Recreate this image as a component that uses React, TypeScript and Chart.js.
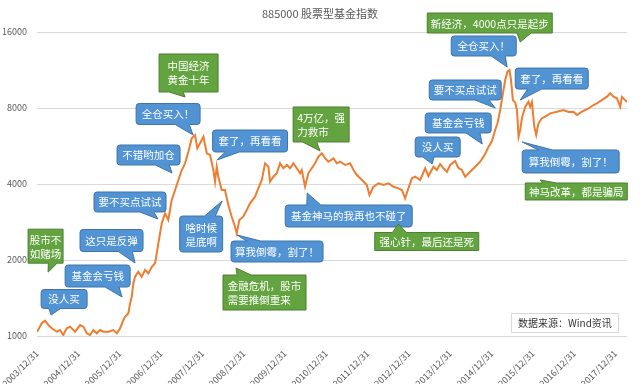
import React, { useEffect, useRef } from 'react';
import { Chart, registerables } from 'chart.js';

Chart.register(...registerables);

const chartTitle = '885000 股票型基金指数';
const sourceNote = '数据来源：Wind资讯';

const dates = [
  '2003-12-31', '2004-02-11', '2004-03-12', '2004-04-10', '2004-05-10', '2004-06-23', '2004-07-22', '2004-08-20',
  '2004-09-19', '2004-10-19', '2004-12-02', '2005-01-16', '2005-02-14', '2005-03-16', '2005-04-14', '2005-05-13',
  '2005-06-12', '2005-07-11', '2005-08-09', '2005-09-23', '2005-11-06', '2005-12-06', '2006-01-04', '2006-02-02',
  '2006-02-17', '2006-03-18', '2006-04-02', '2006-04-17', '2006-05-01', '2006-05-16', '2006-06-14', '2006-07-14',
  '2006-08-12', '2006-09-11', '2006-10-11', '2006-11-09', '2006-12-08', '2007-01-07', '2007-02-05', '2007-03-06',
  '2007-04-05', '2007-05-05', '2007-06-03', '2007-07-03', '2007-08-01', '2007-08-30', '2007-09-29', '2007-10-28',
  '2007-11-17', '2007-12-11', '2008-01-10', '2008-02-09', '2008-03-09', '2008-04-07', '2008-04-22', '2008-05-07',
  '2008-05-21', '2008-06-20', '2008-07-19', '2008-08-18', '2008-09-17', '2008-10-16', '2008-10-31', '2008-11-23',
  '2008-12-28', '2009-01-28', '2009-02-26', '2009-04-11', '2009-05-10', '2009-06-10', '2009-07-09', '2009-08-07',
  '2009-08-22', '2009-09-20', '2009-10-20', '2009-11-18', '2009-12-18', '2010-01-17', '2010-02-15', '2010-03-16',
  '2010-04-15', '2010-05-14', '2010-05-29', '2010-06-27', '2010-07-26', '2010-08-25', '2010-09-23', '2010-10-23',
  '2010-11-22', '2010-12-21', '2011-01-19', '2011-03-05', '2011-04-04', '2011-05-03', '2011-06-16', '2011-07-30',
  '2011-08-29', '2011-09-28', '2011-11-11', '2011-12-25', '2012-01-17', '2012-02-21', '2012-04-06', '2012-05-20',
  '2012-07-03', '2012-08-17', '2012-09-30', '2012-10-30', '2012-11-28', '2012-12-27', '2013-01-27', '2013-02-25',
  '2013-04-10', '2013-05-24', '2013-06-22', '2013-08-05', '2013-09-04', '2013-10-03', '2013-11-02', '2013-12-02',
  '2014-01-01', '2014-02-13', '2014-03-14', '2014-04-13', '2014-05-12', '2014-06-25', '2014-08-09', '2014-09-22',
  '2014-11-05', '2014-12-04', '2015-01-04', '2015-02-02', '2015-02-22', '2015-03-18', '2015-04-11', '2015-05-01',
  '2015-05-21', '2015-06-08', '2015-06-21', '2015-07-08', '2015-07-29', '2015-08-13', '2015-08-27', '2015-09-11',
  '2015-09-26', '2015-10-25', '2015-11-23', '2015-12-08', '2015-12-23', '2016-01-13', '2016-01-30', '2016-02-19',
  '2016-03-20', '2016-04-19', '2016-06-02', '2016-08-01', '2016-09-28', '2016-11-11', '2016-12-25', '2017-01-25',
  '2017-03-10', '2017-05-07', '2017-06-20', '2017-07-20', '2017-09-02', '2017-10-17', '2017-11-15', '2017-12-14',
  '2018-01-13', '2018-02-11', '2018-02-26', '2018-03-27', '2018-04-11',
];

const values = [
  1037, 1123, 1150, 1105, 1073, 1040, 1056, 1009,
  1073, 1089, 1040, 1105, 1089, 1025, 1009, 1056,
  1025, 1056, 1040, 1040, 1056, 1025, 1073, 1157,
  1192, 1230, 1347, 1431, 1617, 1717, 1797, 1717,
  1825, 1771, 1881, 1941, 2329, 2795, 3061, 2880,
  3457, 3787, 4149, 4544, 4830, 5371, 6068, 6254,
  5540, 5800, 6157, 5293, 5212, 4544, 4085, 4685,
  4275, 3787, 3787, 3303, 2968, 2710, 2551, 2880,
  2968, 3156, 3354, 3563, 3846, 4149, 4830, 4685,
  4085, 4275, 4410, 4830, 4616, 4757, 4616, 4830,
  4616, 4410, 4544, 3902, 4410, 4616, 4830, 5130,
  5293, 5060, 4901, 5056, 4830, 4901, 4757, 4830,
  4544, 4342, 4149, 3963, 3618, 3902, 4025, 3963,
  4025, 3902, 3846, 3787, 3511, 3846, 4213, 4275,
  4149, 4616, 4300, 4685, 4544, 4800, 4616, 4475,
  4757, 4930, 4630, 4544, 4275, 4475, 4685, 4901,
  5260, 5610, 5920, 6560, 6959, 7855, 9150, 10330,
  11140, 11310, 10330, 8600, 8400, 7855, 6157, 6560,
  7300, 8095, 8470, 8095, 8450, 6746, 6254, 6959,
  7282, 7392, 7622, 7733, 7855, 7720, 7733, 7505,
  7733, 7978, 8220, 8350, 8600, 8870, 9150, 8870,
  8740, 8095, 8850, 8600, 8450,
];

const yTickValues = [1000, 2000, 4000, 8000, 16000];
const xTickLabels = [
  '2003/12/31', '2004/12/31', '2005/12/31', '2006/12/31', '2007/12/31',
  '2008/12/31', '2009/12/31', '2010/12/31', '2011/12/31', '2012/12/31',
  '2013/12/31', '2014/12/31', '2015/12/31', '2016/12/31', '2017/12/31',
];
const xRangeEnd = '2018/04/12';

type Callout = {
  lines: string[];
  kind: 'blue' | 'green';
  tip: [string, number];
  dx: number;
  dy: number;
  w: number;
  h: number;
};

const callouts: Callout[] = [
  { lines: ['股市不', '如赌场'], kind: 'green', tip: ['2004-04-07', 1790], dx: -2.5, dy: -26, w: 35, h: 34 },
  { lines: ['没人买'], kind: 'blue', tip: ['2004-05-04', 1211], dx: 13, dy: -16, w: 46, h: 19 },
  { lines: ['基金会亏钱'], kind: 'blue', tip: ['2006-01-22', 1427], dx: -24.5, dy: -21, w: 65, h: 22 },
  { lines: ['这只是反弹'], kind: 'blue', tip: ['2006-05-16', 1946], dx: -23.5, dy: -22.5, w: 63, h: 22 },
  { lines: ['要不买点试试'], kind: 'blue', tip: ['2006-12-05', 2907], dx: -28, dy: -17, w: 72, h: 20 },
  { lines: ['不错哟加仓'], kind: 'blue', tip: ['2007-04-08', 4422], dx: -23.5, dy: -18, w: 63, h: 20 },
  { lines: ['全仓买入！'], kind: 'blue', tip: ['2007-10-11', 6254], dx: -25, dy: -21, w: 64, h: 21 },
  { lines: ['中国经济', '黄金十年'], kind: 'green', tip: ['2007-08-01', 8845], dx: 3.5, dy: -24, w: 59, h: 38 },
  { lines: ['套了，再看看'], kind: 'blue', tip: ['2008-05-10', 4979], dx: 33, dy: -19, w: 75, h: 22 },
  { lines: ['啥时候', '是底啊'], kind: 'blue', tip: ['2008-06-24', 3425], dx: -21, dy: 33, w: 43, h: 36 },
  { lines: ['算我倒霉，割了！'], kind: 'blue', tip: ['2008-11-03', 2512], dx: 40, dy: 16.5, w: 92, h: 21 },
  { lines: ['金融危机，股市', '需要推倒重来'], kind: 'green', tip: ['2008-10-25', 1859], dx: 28.5, dy: 24.5, w: 83, h: 35 },
  { lines: ['4万亿，强', '力救市'], kind: 'green', tip: ['2010-11-07', 5405], dx: 1, dy: -26.5, w: 56, h: 35 },
  { lines: ['基金神马的我再也不碰了'], kind: 'blue', tip: ['2010-07-16', 3685], dx: 41.5, dy: 23, w: 127, h: 22 },
  { lines: ['强心针，最后还是死'], kind: 'green', tip: ['2012-09-28', 2778], dx: 28.5, dy: 17.5, w: 104, h: 18 },
  { lines: ['没人买'], kind: 'blue', tip: ['2013-07-25', 4800], dx: 5.5, dy: -17, w: 45, h: 20 },
  { lines: ['基金会亏钱'], kind: 'blue', tip: ['2014-10-10', 5761], dx: -24, dy: -21, w: 66, h: 20 },
  { lines: ['要不买点试试'], kind: 'blue', tip: ['2015-02-02', 8000], dx: -30, dy: -18, w: 72, h: 20 },
  { lines: ['全仓买入！'], kind: 'blue', tip: ['2015-05-19', 11627], dx: -23.5, dy: -21, w: 65, h: 20 },
  { lines: ['新经济，4000点只是起步'], kind: 'green', tip: ['2015-09-11', 14603], dx: -30.5, dy: -19, w: 125, h: 20 },
  { lines: ['套了，再看看'], kind: 'blue', tip: ['2015-09-11', 8600], dx: 31.5, dy: -21.5, w: 73, h: 21 },
  { lines: ['算我倒霉，割了！'], kind: 'blue', tip: ['2015-09-28', 5868], dx: 48.5, dy: 19.5, w: 97, h: 23 },
  { lines: ['神马改革，都是骗局'], kind: 'green', tip: ['2016-03-06', 4149], dx: 36, dy: 11.5, w: 102, h: 17 },
];

const FONT = '"Noto Sans CJK SC", "Noto Sans", sans-serif';

function toYear(s: string): number {
  const [y, m, d] = s.split(/[-/]/).map(Number);
  const start = Date.UTC(y, 0, 1);
  const end = Date.UTC(y + 1, 0, 1);
  return y + (Date.UTC(y, m - 1, d) - start) / (end - start);
}

const styles = {
  blue: { fill: '#5193D3', stroke: '#3F74A8', radius: 3 },
  green: { fill: '#64A440', stroke: '#4C7F30', radius: 0 },
};

function calloutPath(
  ctx: CanvasRenderingContext2D,
  l: number, t: number, r: number, b: number,
  tx: number, ty: number, rad: number,
) {
  const w = r - l;
  const h = b - t;
  const cx = (l + r) / 2;
  const cy = (t + b) / 2;
  let side: 'top' | 'bottom' | 'left' | 'right';
  if (ty > b) side = 'bottom';
  else if (ty < t) side = 'top';
  else if (tx < l) side = 'left';
  else side = 'right';
  const bw = Math.min(w * 0.25, 14);
  const bh = Math.min(h * 0.4, 10);
  let a0 = 0;
  let a1 = 0;
  if (side === 'top' || side === 'bottom') {
    if (tx < cx) { a0 = l + w * 0.17; a1 = a0 + bw; } else { a1 = r - w * 0.17; a0 = a1 - bw; }
  } else {
    if (ty < cy) { a0 = t + h * 0.2; a1 = a0 + bh; } else { a1 = b - h * 0.2; a0 = a1 - bh; }
  }
  ctx.beginPath();
  ctx.moveTo(l + rad, t);
  if (side === 'top') { ctx.lineTo(a0, t); ctx.lineTo(tx, ty); ctx.lineTo(a1, t); }
  ctx.lineTo(r - rad, t);
  if (rad) ctx.arcTo(r, t, r, t + rad, rad);
  if (side === 'right') { ctx.lineTo(r, a0); ctx.lineTo(tx, ty); ctx.lineTo(r, a1); }
  ctx.lineTo(r, b - rad);
  if (rad) ctx.arcTo(r, b, r - rad, b, rad);
  if (side === 'bottom') { ctx.lineTo(a1, b); ctx.lineTo(tx, ty); ctx.lineTo(a0, b); }
  ctx.lineTo(l + rad, b);
  if (rad) ctx.arcTo(l, b, l, b - rad, rad);
  if (side === 'left') { ctx.lineTo(l, a1); ctx.lineTo(tx, ty); ctx.lineTo(l, a0); }
  ctx.lineTo(l, t + rad);
  if (rad) ctx.arcTo(l, t, l + rad, t, rad);
  ctx.closePath();
}

const decorPlugin = {
  id: 'decor',
  beforeDraw(chart: any) {
    const { ctx, width, height } = chart;
    ctx.save();
    ctx.fillStyle = '#ffffff';
    ctx.fillRect(0, 0, width, height);
    ctx.restore();
  },
  afterDatasetsDraw(chart: any) {
    const { ctx, chartArea, scales } = chart;
    const xs = scales.x;
    const ys = scales.y;
    ctx.save();
    ctx.fillStyle = '#595959';
    ctx.font = `11px ${FONT}`;
    ctx.textAlign = 'center';
    ctx.textBaseline = 'middle';
    ctx.fillText(chartTitle, chart.width / 2, 14);

    for (const c of callouts) {
      const st = styles[c.kind];
      const tx = xs.getPixelForValue(toYear(c.tip[0]));
      const ty = ys.getPixelForValue(c.tip[1]);
      const cx = tx + c.dx;
      const cy = ty + c.dy;
      const l = cx - c.w / 2;
      const r = cx + c.w / 2;
      const t = cy - c.h / 2;
      const b = cy + c.h / 2;
      calloutPath(ctx, l, t, r, b, tx, ty, st.radius);
      ctx.fillStyle = st.fill;
      ctx.fill();
      ctx.lineWidth = 1;
      ctx.strokeStyle = st.stroke;
      ctx.stroke();
      ctx.fillStyle = '#ffffff';
      ctx.font = `10.5px ${FONT}`;
      ctx.textAlign = 'left';
      ctx.textBaseline = 'middle';
      const lh = 14;
      const maxW = Math.max(...c.lines.map((s) => ctx.measureText(s).width));
      const sx = cx - maxW / 2;
      c.lines.forEach((s, i) => {
        ctx.fillText(s, sx, cy + (i - (c.lines.length - 1) / 2) * lh + 0.5);
      });
    }

    const nl = chartArea.right - 116;
    const nr = chartArea.right - 8;
    const nt = chartArea.bottom - 23;
    const nb = chartArea.bottom - 3;
    ctx.fillStyle = '#ffffff';
    ctx.fillRect(nl, nt, nr - nl, nb - nt);
    ctx.strokeStyle = '#d9d9d9';
    ctx.lineWidth = 1;
    ctx.strokeRect(nl + 0.5, nt + 0.5, nr - nl - 1, nb - nt - 1);
    ctx.fillStyle = '#333333';
    ctx.font = `10px ${FONT}`;
    ctx.textAlign = 'left';
    ctx.textBaseline = 'middle';
    ctx.fillText(sourceNote, nl + 7, (nt + nb) / 2 + 0.5);
    ctx.restore();
  },
};

export default function App() {
  const ref = useRef<HTMLCanvasElement | null>(null);

  useEffect(() => {
    document.body.style.margin = '0';
    const canvas = ref.current;
    if (!canvas) return;
    const points = dates.map((d, i) => ({ x: toYear(d), y: values[i] }));
    const chart = new Chart(canvas, {
      type: 'line',
      data: {
        datasets: [
          {
            label: '885000',
            data: points,
            borderColor: '#ED7D31',
            borderWidth: 2,
            pointRadius: 0,
            tension: 0,
            fill: false,
          },
        ],
      },
      options: {
        responsive: false,
        animation: false,
        events: [],
        layout: { padding: { top: 32, right: 13, bottom: 0, left: 0 } },
        plugins: {
          legend: { display: false },
          tooltip: { enabled: false },
          title: { display: false },
        },
        scales: {
          x: {
            type: 'linear',
            min: toYear(xTickLabels[0]),
            max: toYear(xRangeEnd),
            grid: { display: false },
            border: { display: false },
            afterBuildTicks: (s: any) => {
              s.ticks = xTickLabels.map((l) => ({ value: toYear(l) }));
            },
            ticks: {
              autoSkip: false,
              maxRotation: 45,
              minRotation: 45,
              padding: 4,
              color: '#595959',
              font: { size: 9, family: FONT },
              callback: (_v: any, i: number) => xTickLabels[i],
            },
            afterFit: (s: any) => {
              s.height = 48;
              s.paddingLeft = 0;
              s.paddingRight = 0;
            },
          },
          y: {
            type: 'logarithmic',
            min: 1000,
            max: 16000,
            afterBuildTicks: (s: any) => {
              s.ticks = yTickValues.map((v) => ({ value: v }));
            },
            grid: { color: '#d9d9d9', lineWidth: 1, drawTicks: false },
            border: { display: false },
            ticks: {
              padding: 10,
              color: '#595959',
              font: { size: 9, family: FONT },
              callback: (v: any) => String(v),
            },
            afterFit: (s: any) => {
              s.width = 37;
            },
          },
        },
      },
      plugins: [decorPlugin],
    });
    return () => chart.destroy();
  }, []);

  return <canvas ref={ref} width={640} height={384} style={{ display: 'block' }} />;
}
